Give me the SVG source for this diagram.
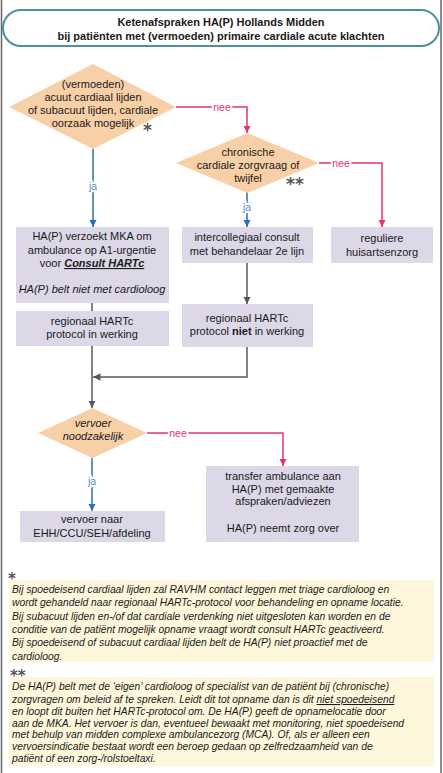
<svg xmlns="http://www.w3.org/2000/svg" width="443" height="773" viewBox="0 0 443 773">
<style>
text{font-family:"Liberation Sans",Arial,sans-serif;fill:#1a1a1a}
.t{font-size:11px;text-anchor:middle}
.title{font-size:11px;font-weight:bold;text-anchor:middle}
.fn{font-size:10.3px;font-style:italic}
.dia{fill:#f7d0a8}
.box{fill:#dcd8e7}
.note{fill:#fef7dc}
.pink{stroke:#e8336f;stroke-width:1.5;fill:none}
.blue{stroke:#2c6fb8;stroke-width:1.5;fill:none}
.gray{stroke:#595959;stroke-width:1.5;fill:none}
.lp{font-size:10.5px;fill:#e8336f;text-anchor:middle;stroke:#fff;stroke-width:4;paint-order:stroke}
.lb{font-size:10.5px;fill:#4f8fd0;text-anchor:middle;stroke:#fff;stroke-width:4;paint-order:stroke}
.star{font-family:"DejaVu Sans",sans-serif;font-weight:bold;fill:#555;font-size:17px}
.star2{font-family:"DejaVu Sans",sans-serif;font-weight:bold;fill:#555;font-size:15px}
</style>
<defs>
<marker id="ap" viewBox="0 0 10 10" refX="10" refY="5" markerWidth="5" markerHeight="5" orient="auto"><path d="M0,0L10,5L0,10z" fill="#e8336f"/></marker>
<marker id="ab" viewBox="0 0 10 10" refX="10" refY="5" markerWidth="5" markerHeight="5" orient="auto"><path d="M0,0L10,5L0,10z" fill="#2c6fb8"/></marker>
<marker id="ag" viewBox="0 0 10 10" refX="10" refY="5" markerWidth="5" markerHeight="5" orient="auto"><path d="M0,0L10,5L0,10z" fill="#595959"/></marker>
</defs>
<rect x="0" y="0" width="443" height="773" fill="#fff"/>
<line x1="1.5" y1="0" x2="1.5" y2="773" stroke="#666" stroke-width="1.5"/>
<line x1="441" y1="0" x2="441" y2="773" stroke="#666" stroke-width="1.5"/>

<g id="title">
<rect x="3" y="10" width="436" height="36" rx="18" fill="#fff" stroke="#4a90a0" stroke-width="2"/>
<text class="title" x="221" y="26">Ketenafspraken HA(P) Hollands Midden</text>
<text class="title" x="221" y="40">bij patiënten met (vermoeden) primaire cardiale acute klachten</text>
</g>

<g id="connectors">
<path class="pink" d="M176,107H247V133" marker-end="url(#ap)"/>
<text class="lp" x="222" y="111">nee</text>
<path class="blue" d="M93,149V227" marker-end="url(#ab)"/>
<text class="lb" x="93" y="190">ja</text>
<path class="pink" d="M319,163H382V227" marker-end="url(#ap)"/>
<text class="lp" x="341" y="167">nee</text>
<path class="blue" d="M247,192V227" marker-end="url(#ab)"/>
<text class="lb" x="247" y="211">ja</text>
<path class="gray" d="M247,263V304" marker-end="url(#ag)"/>
<path class="gray" d="M92,303V311"/>
<path class="gray" d="M92,346V408" marker-end="url(#ag)"/>
<path class="gray" d="M247,347V377H93" marker-end="url(#ag)"/>
<path class="pink" d="M147,433H283V466" marker-end="url(#ap)"/>
<text class="lp" x="178" y="437">nee</text>
<path class="blue" d="M92,458V511" marker-end="url(#ab)"/>
<text class="lb" x="92" y="485">ja</text>
</g>

<g id="d1">
<polygon class="dia" points="93,64 176,107 93,149 9,107"/>
<text class="t" x="93" y="88">(vermoeden)</text>
<text class="t" x="93" y="101">acuut cardiaal lijden</text>
<text class="t" x="93" y="114">of subacuut lijden, cardiale</text>
<text class="t" x="93" y="127">oorzaak mogelijk</text>
<text class="star" x="143" y="136">*</text>
</g>

<g id="d2">
<polygon class="dia" points="247.5,133 319,163 247.5,193 176,163"/>
<text class="t" x="248" y="156">chronische</text>
<text class="t" x="248" y="169">cardiale zorgvraag of</text>
<text class="t" x="248" y="182">twijfel</text>
<text class="star" x="286" y="190">**</text>
</g>

<g id="b1">
<rect class="box" x="16" y="227" width="153" height="76"/>
<text class="t" x="92" y="240">HA(P) verzoekt MKA om</text>
<text class="t" x="92" y="254">ambulance op A1-urgentie</text>
<text class="t" x="92" y="267">voor <tspan font-weight="bold" font-style="italic" text-decoration="underline">Consult HARTc</tspan></text>
<text class="t" x="92" y="293" font-style="italic">HA(P) belt niet met cardioloog</text>
</g>

<g id="b2">
<rect class="box" x="16" y="311" width="153" height="35"/>
<text class="t" x="92" y="325">regionaal HARTc</text>
<text class="t" x="92" y="338">protocol in werking</text>
</g>

<g id="b3">
<rect class="box" x="182" y="227" width="131" height="36"/>
<text class="t" x="247" y="241">intercollegiaal consult</text>
<text class="t" x="247" y="255">met behandelaar 2e lijn</text>
</g>

<g id="b4">
<rect class="box" x="331" y="227" width="102" height="36"/>
<text class="t" x="382" y="242">reguliere</text>
<text class="t" x="382" y="256">huisartsenzorg</text>
</g>

<g id="b5">
<rect class="box" x="182" y="304" width="131" height="43"/>
<text class="t" x="247" y="322">regionaal HARTc</text>
<text class="t" x="247" y="335">protocol <tspan font-weight="bold">niet</tspan> in werking</text>
</g>

<g id="d3">
<polygon class="dia" points="92.5,408 147,433 92.5,458 38,433"/>
<text class="t" x="93" y="427" font-style="italic">vervoer</text>
<text class="t" x="93" y="440" font-style="italic">noodzakelijk</text>
</g>

<g id="b6">
<rect class="box" x="20" y="511" width="145" height="31"/>
<text class="t" x="92" y="523">vervoer naar</text>
<text class="t" x="92" y="537">EHH/CCU/SEH/afdeling</text>
</g>

<g id="b7">
<rect class="box" x="206" y="466" width="153" height="76"/>
<text class="t" x="283" y="480">transfer ambulance aan</text>
<text class="t" x="283" y="493">HA(P) met gemaakte</text>
<text class="t" x="283" y="505">afspraken/adviezen</text>
<text class="t" x="283" y="532">HA(P) neemt zorg over</text>
</g>

<g id="note1">
<rect class="note" x="9" y="580" width="425" height="82"/>
<text class="star2" x="8" y="584">*</text>
<text class="fn" x="12" y="593">Bij spoedeisend cardiaal lijden zal RAVHM contact leggen met triage cardioloog en</text>
<text class="fn" x="12" y="606">wordt gehandeld naar regionaal HARTc-protocol voor behandeling en opname locatie.</text>
<text class="fn" x="12" y="620">Bij subacuut lijden en-/of dat cardiale verdenking niet uitgesloten kan worden en de</text>
<text class="fn" x="12" y="633">conditie van de patiënt mogelijk opname vraagt wordt consult HARTc geactiveerd.</text>
<text class="fn" x="12" y="646">Bij spoedeisend of subacuut cardiaal lijden belt de HA(P) niet proactief met de</text>
<text class="fn" x="12" y="660">cardioloog.</text>
</g>

<g id="note2">
<rect class="note" x="9" y="677" width="425" height="89"/>
<text class="star2" x="10" y="681">**</text>
<text class="fn" x="12" y="690">De HA(P) belt met de ‘eigen’ cardioloog of specialist van de patiënt bij (chronische)</text>
<text class="fn" x="12" y="703">zorgvragen om beleid af te spreken. Leidt dit tot opname dan is dit <tspan text-decoration="underline">niet spoedeisend</tspan></text>
<text class="fn" x="12" y="715">en loopt dit buiten het HARTc-protocol om. De HA(P) geeft de opnamelocatie door</text>
<text class="fn" x="12" y="727">aan de MKA. Het vervoer is dan, eventueel bewaakt met monitoring, niet spoedeisend</text>
<text class="fn" x="12" y="738">met behulp van midden complexe ambulancezorg (MCA). Of, als er alleen een</text>
<text class="fn" x="12" y="750">vervoersindicatie bestaat wordt een beroep gedaan op zelfredzaamheid van de</text>
<text class="fn" x="12" y="762">patiënt of een zorg-/rolstoeltaxi.</text>
</g>
</svg>
